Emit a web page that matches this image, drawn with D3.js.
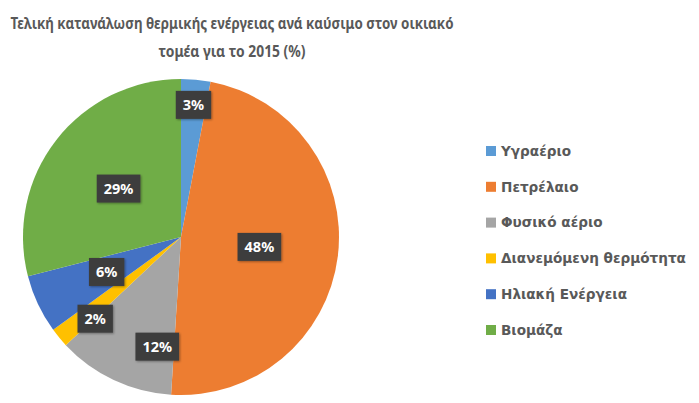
<!DOCTYPE html>
<html>
<head>
<meta charset="utf-8">
<script src="https://cdn.jsdelivr.net/npm/d3@7"></script>
<style>
  html, body { margin: 0; padding: 0; background: #ffffff; }
  svg { display: block; }
</style>
</head>
<body>
<svg id="chart" width="699" height="403"></svg>
<script>
// Fuel shares of final thermal energy consumption in households, 2015 (%)
const categories = ["Υγραέριο", "Πετρέλαιο", "Φυσικό αέριο", "Διανεμόμενη θερμότητα", "Ηλιακή Ενέργεια", "Βιομάζα"];
const shares = [3, 48, 12, 2, 6, 29];
const colors = ["#5B9BD5", "#ED7D31", "#A5A5A5", "#FFC000", "#4472C4", "#70AD47"];
const titleLines = ["Τελική κατανάλωση θερμικής ενέργειας ανά καύσιμο στον οικιακό", "τομέα για το 2015 (%)"];

// Label placement: fraction of the radius and angular nudge (degrees) per slice
const labelPlacement = [
  { r: 0.84, da: 0 },
  { r: 0.50, da: 0 },
  { r: 0.71, da: -13 },
  { r: 0.75, da: -4 },
  { r: 0.52, da: 0 },
  { r: 0.50, da: 0 }
];

const svg = d3.select("#chart");
const cx = 181, cy = 237, R = 158;
const textColor = "#595959";

// Title (condensed to the width of a Calibri-like face)
const titleWidths = [443, 147];
svg.append("g").selectAll("text").data(titleLines).join("text")
  .attr("x", 232)
  .attr("y", (d, i) => 29 + i * 28)
  .attr("text-anchor", "middle")
  .attr("font-family", "'Noto Sans', 'Open Sans', sans-serif")
  .attr("font-weight", "bold")
  .attr("font-size", 16)
  .attr("fill", textColor)
  .attr("textLength", (d, i) => titleWidths[i])
  .attr("lengthAdjust", "spacingAndGlyphs")
  .text(d => d);

const data = categories.map((c, i) => ({ name: c, value: shares[i], color: colors[i], i }));

const pie = d3.pie().value(d => d.value).sort(null);
const arcs = pie(data);
const arc = d3.arc().innerRadius(0).outerRadius(R);

const g = svg.append("g").attr("transform", `translate(${cx},${cy})`);

g.selectAll("path").data(arcs).join("path")
  .attr("d", arc)
  .attr("fill", d => d.data.color)
  .attr("stroke", "none");

// Shadow for data labels
const defs = svg.append("defs");
const f = defs.append("filter").attr("id", "lblShadow").attr("x", "-30%").attr("y", "-30%").attr("width", "160%").attr("height", "160%");
f.append("feDropShadow").attr("dx", 1).attr("dy", 1).attr("stdDeviation", 1.2).attr("flood-color", "#000").attr("flood-opacity", 0.35);

const labels = g.selectAll("g.lbl").data(arcs).join("g").attr("class", "lbl")
  .attr("transform", (d, i) => {
    const p = labelPlacement[i];
    const a = (d.startAngle + d.endAngle) / 2 + p.da * Math.PI / 180;
    const r = R * p.r;
    return `translate(${r * Math.sin(a)},${-r * Math.cos(a)})`;
  });

labels.each(function(d) {
  const sel = d3.select(this);
  const txt = d.data.value + "%";
  const t = sel.append("text")
    .attr("text-anchor", "middle")
    .attr("dy", "0.36em")
    .attr("font-family", "'Noto Sans', 'Open Sans', sans-serif")
    .attr("font-weight", "bold")
    .attr("font-size", 14.5)
    .attr("fill", "#ffffff")
    .text(txt);
  const bb = t.node().getBBox();
  const padX = 7, h = 28;
  sel.insert("rect", "text")
    .attr("x", -bb.width / 2 - padX)
    .attr("y", -h / 2)
    .attr("width", bb.width + padX * 2)
    .attr("height", h)
    .attr("fill", "#3d3d3d")
    .attr("filter", "url(#lblShadow)");
});

// Legend
const legend = svg.append("g").attr("transform", "translate(486,151)");
const rows = legend.selectAll("g").data(data).join("g")
  .attr("transform", (d, i) => `translate(0,${i * 35.8})`);
rows.append("rect")
  .attr("x", 0).attr("y", -5)
  .attr("width", 10).attr("height", 10)
  .attr("fill", d => d.color);
rows.append("text")
  .attr("x", 15)
  .attr("dy", "0.35em")
  .attr("font-family", "'DejaVu Sans', sans-serif")
  .attr("font-weight", "bold")
  .attr("font-size", 13.6)
  .attr("fill", textColor)
  .text(d => d.name);
</script>
</body>
</html>
